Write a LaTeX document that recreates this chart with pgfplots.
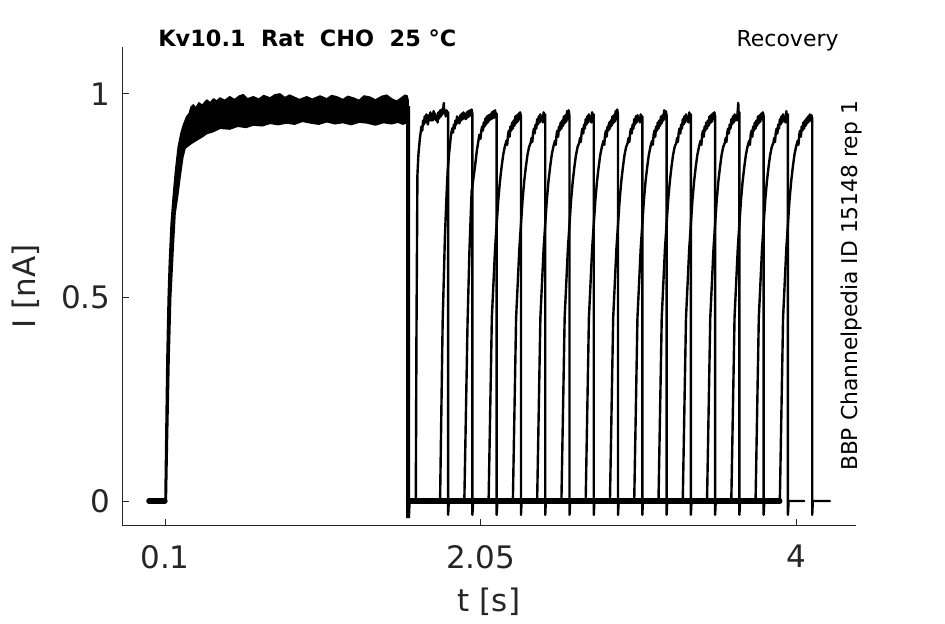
\documentclass[border=0pt]{standalone}
\usepackage{pgfplots}
\pgfplotsset{compat=1.18}
\usepackage{fontspec}
\setmainfont{DejaVu Sans}
\definecolor{axisgray}{HTML}{262626}
\begin{document}
\begin{tikzpicture}
\path[use as bounding box] (-61pt,-49pt) rectangle (411.5pt,263pt);
\begin{axis}[
  at={(0,0)}, anchor=south west,
  scale only axis, width=367pt, height=239.5pt,
  xmin=-0.1658, xmax=4.3708, ymin=-0.0614, ymax=1.1155,
  clip=false,
  axis x line*=bottom, axis y line*=left,
  axis line style={-, draw=axisgray, line width=0.5pt},
  tick align=inside,
  major tick length=3.5pt,
  every tick/.style={draw=axisgray, line width=0.5pt},
  xtick={0.1,2.05,4}, xticklabels={0.1,2.05,4},
  ytick={0,0.5,1}, yticklabels={0,0.5,1},
  /pgf/number format/assume math mode=true,
  ticklabel style={font=\fontsize{15.5}{18}\selectfont, text=axisgray},
  xticklabel style={yshift=-6pt},
  yticklabel style={xshift=-2.3pt},
  xlabel={t [s]}, ylabel={I [nA]},
  label style={font=\fontsize{15.5}{18}\selectfont, text=axisgray},
  xlabel style={at={(axis description cs:0.5,-0.159)}, anchor=center},
  ylabel style={at={(axis description cs:-0.131,0.5)}, anchor=center},
  sweep/.style={black, line width=1.2pt, line join=round, line cap=round},
]
% pre-pulse baseline and recovery baseline (overlapping noisy sweeps)
\addplot[black, line width=2.6pt, line cap=round] coordinates {(0,0) (0.1,0)};
\addplot[black, line width=2.6pt, line cap=round] coordinates {(1.604,0) (3.90,0)};
% first (conditioning) pulse: band of overlapping sweeps
\addplot[black, fill=black, line width=0.8pt, line join=round] coordinates {
(0.100,0.000) (0.105,0.15) (0.112,0.35) (0.120,0.50) (0.127,0.584) (0.138,0.68)
(0.151,0.748) (0.165,0.81) (0.182,0.870) (0.200,0.905) (0.215,0.925) (0.234,0.944)
(0.250,0.952) (0.262,0.968) (0.275,0.973) (0.29,0.965) (0.31,0.978) (0.33,0.972)
(0.358,0.985) (0.38,0.978) (0.40,0.988) (0.42,0.982) (0.44,0.990) (0.47,0.984)
(0.50,0.993) (0.53,0.986) (0.56,0.995) (0.584,0.998) (0.61,0.988) (0.646,0.993)
(0.68,0.987) (0.71,0.996) (0.749,0.990) (0.78,0.998) (0.811,1.000) (0.84,0.991)
(0.87,0.997) (0.893,0.993) (0.93,0.986) (0.976,0.993) (1.01,0.987) (1.058,0.995)
(1.10,0.988) (1.13,0.996) (1.161,0.993) (1.20,0.986) (1.23,0.994) (1.264,0.990)
(1.30,0.984) (1.33,0.995) (1.367,0.992) (1.40,0.985) (1.44,0.994) (1.47,0.997)
(1.50,0.988) (1.532,0.982) (1.56,0.990) (1.583,0.997) (1.596,0.995) (1.602,0.985)
(1.602,0.935)
(1.600,0.930) (1.57,0.926) (1.54,0.931) (1.50,0.927) (1.45,0.930) (1.40,0.924)
(1.35,0.929) (1.30,0.931) (1.25,0.925) (1.20,0.930) (1.15,0.927) (1.10,0.932)
(1.05,0.926) (1.00,0.929) (0.95,0.933) (0.90,0.926) (0.852,0.929) (0.80,0.925)
(0.75,0.928) (0.70,0.922) (0.646,0.924) (0.60,0.918) (0.55,0.921) (0.50,0.914)
(0.44,0.916) (0.40,0.908) (0.358,0.903) (0.33,0.895) (0.296,0.887) (0.26,0.878)
(0.224,0.867) (0.21,0.845) (0.193,0.797) (0.178,0.75) (0.162,0.707) (0.150,0.62)
(0.135,0.50) (0.125,0.35) (0.115,0.15) (0.108,0.00)
};
% end of first pulse
\addplot[black, line width=2pt] coordinates {(1.602,0.97) (1.602,-0.042) (1.607,0)};
% recovery test pulses, one per sweep
\addplot[sweep] coordinates {(1.650,0) (1.654,0.40) (1.660,0.80) (1.666,0.85) (1.675,0.89) (1.68,0.905) (1.685,0.92) (1.69,0.91) (1.695,0.935) (1.70,0.925) (1.705,0.945) (1.71,0.93) (1.715,0.95) (1.72,0.935) (1.725,0.925) (1.73,0.948) (1.735,0.935) (1.74,0.955) (1.745,0.935) (1.75,0.95) (1.755,0.935) (1.76,0.958) (1.765,0.94) (1.77,0.952) (1.775,0.935) (1.78,0.945) (1.785,0.93) (1.79,0.955) (1.795,0.94) (1.80,0.96) (1.805,0.945) (1.81,0.962) (1.815,0.95) (1.82,0.965) (1.823,0.978) (1.826,0.955) (1.83,0.96) (1.835,0.945) (1.84,0.96) (1.845,0.948) (1.85,0.955) (1.85,-0.034) (1.854,0) (1.95,0)};
\addplot[sweep] coordinates {(1.80,0) (1.816,0.44) (1.83,0.65) (1.841,0.76) (1.847,0.81) (1.855,0.85) (1.86,0.87) (1.865,0.89) (1.87,0.905) (1.876,0.916) (1.88,0.905) (1.885,0.925) (1.89,0.915) (1.895,0.935) (1.90,0.925) (1.905,0.945) (1.91,0.93) (1.915,0.94) (1.92,0.928) (1.925,0.948) (1.93,0.935) (1.935,0.952) (1.94,0.938) (1.945,0.955) (1.95,0.94) (1.955,0.95) (1.96,0.938) (1.965,0.955) (1.97,0.942) (1.975,0.958) (1.98,0.945) (1.985,0.96) (1.99,0.948) (1.995,0.962) (2.0,0.95) (2.0,-0.034) (2.004,0) (2.10,0)};
\addplot[sweep] coordinates {(1.95,0) (1.97,0.44) (1.982,0.62) (1.995,0.76) (2.012,0.81) (2.02,0.835) (2.027,0.86) (2.035,0.88) (2.043,0.9) (2.05,0.89) (2.055,0.91) (2.06,0.92) (2.065,0.91) (2.07,0.93) (2.075,0.92) (2.08,0.94) (2.085,0.925) (2.09,0.945) (2.095,0.93) (2.10,0.948) (2.105,0.935) (2.11,0.95) (2.115,0.938) (2.12,0.955) (2.125,0.94) (2.13,0.958) (2.135,0.942) (2.14,0.96) (2.145,0.945) (2.15,0.952) (2.15,-0.034) (2.154,0) (2.25,0)};
\addplot[sweep] coordinates {(2.10,0) (2.12,0.45) (2.14,0.62) (2.16,0.74) (2.17,0.785) (2.18,0.82) (2.19,0.85) (2.20,0.87) (2.21,0.885) (2.215,0.875) (2.22,0.90) (2.225,0.91) (2.23,0.895) (2.235,0.92) (2.24,0.91) (2.245,0.93) (2.25,0.915) (2.255,0.935) (2.26,0.922) (2.265,0.945) (2.27,0.928) (2.275,0.948) (2.28,0.932) (2.285,0.952) (2.29,0.938) (2.295,0.955) (2.30,0.945) (2.30,-0.034) (2.304,0) (2.40,0)};
\addplot[sweep] coordinates {(2.25,0) (2.27,0.45) (2.29,0.62) (2.31,0.74) (2.32,0.785) (2.33,0.82) (2.34,0.85) (2.35,0.87) (2.36,0.88) (2.365,0.892) (2.37,0.882) (2.375,0.905) (2.38,0.915) (2.385,0.903) (2.39,0.925) (2.395,0.915) (2.40,0.938) (2.405,0.925) (2.41,0.945) (2.415,0.93) (2.42,0.95) (2.425,0.935) (2.43,0.942) (2.435,0.93) (2.44,0.955) (2.445,0.94) (2.45,0.95) (2.45,-0.034) (2.454,0) (2.55,0)};
\addplot[sweep] coordinates {(2.40,0) (2.42,0.45) (2.44,0.62) (2.46,0.74) (2.47,0.785) (2.48,0.82) (2.49,0.85) (2.50,0.87) (2.51,0.885) (2.515,0.875) (2.52,0.90) (2.525,0.91) (2.53,0.895) (2.535,0.92) (2.54,0.91) (2.545,0.93) (2.55,0.915) (2.555,0.935) (2.56,0.922) (2.565,0.945) (2.57,0.928) (2.575,0.948) (2.58,0.932) (2.585,0.958) (2.59,0.938) (2.595,0.96) (2.60,0.945) (2.60,-0.034) (2.604,0) (2.70,0)};
\addplot[sweep] coordinates {(2.55,0) (2.57,0.45) (2.59,0.62) (2.61,0.74) (2.62,0.785) (2.63,0.82) (2.64,0.85) (2.65,0.87) (2.66,0.88) (2.665,0.892) (2.67,0.882) (2.675,0.905) (2.68,0.915) (2.685,0.903) (2.69,0.925) (2.695,0.915) (2.70,0.938) (2.705,0.925) (2.71,0.945) (2.715,0.93) (2.72,0.95) (2.725,0.935) (2.73,0.942) (2.735,0.93) (2.74,0.955) (2.745,0.94) (2.75,0.95) (2.75,-0.034) (2.754,0) (2.85,0)};
\addplot[sweep] coordinates {(2.70,0) (2.72,0.45) (2.74,0.62) (2.76,0.74) (2.77,0.785) (2.78,0.82) (2.79,0.85) (2.80,0.87) (2.81,0.885) (2.815,0.875) (2.82,0.90) (2.825,0.91) (2.83,0.895) (2.835,0.92) (2.84,0.91) (2.845,0.93) (2.85,0.915) (2.855,0.935) (2.86,0.922) (2.865,0.945) (2.87,0.928) (2.875,0.948) (2.88,0.932) (2.885,0.958) (2.89,0.938) (2.895,0.962) (2.90,0.948) (2.90,-0.034) (2.904,0) (3.00,0)};
\addplot[sweep] coordinates {(2.85,0) (2.87,0.45) (2.89,0.62) (2.91,0.74) (2.92,0.785) (2.93,0.82) (2.94,0.85) (2.95,0.87) (2.96,0.88) (2.965,0.892) (2.97,0.882) (2.975,0.905) (2.98,0.915) (2.985,0.903) (2.99,0.925) (2.995,0.915) (3.00,0.938) (3.005,0.925) (3.01,0.945) (3.015,0.93) (3.02,0.948) (3.025,0.935) (3.03,0.942) (3.035,0.93) (3.04,0.95) (3.045,0.938) (3.05,0.945) (3.05,-0.034) (3.054,0) (3.15,0)};
\addplot[sweep] coordinates {(3.00,0) (3.02,0.45) (3.04,0.62) (3.06,0.74) (3.07,0.785) (3.08,0.82) (3.09,0.85) (3.10,0.87) (3.11,0.885) (3.115,0.875) (3.12,0.90) (3.125,0.91) (3.13,0.895) (3.135,0.92) (3.14,0.91) (3.145,0.93) (3.15,0.915) (3.155,0.935) (3.16,0.922) (3.165,0.945) (3.17,0.928) (3.175,0.948) (3.18,0.935) (3.185,0.96) (3.19,0.94) (3.195,0.958) (3.20,0.948) (3.20,-0.034) (3.204,0) (3.30,0)};
\addplot[sweep] coordinates {(3.15,0) (3.17,0.45) (3.19,0.62) (3.21,0.74) (3.22,0.785) (3.23,0.82) (3.24,0.85) (3.25,0.87) (3.26,0.88) (3.265,0.892) (3.27,0.882) (3.275,0.905) (3.28,0.915) (3.285,0.903) (3.29,0.925) (3.295,0.915) (3.30,0.938) (3.305,0.925) (3.31,0.945) (3.315,0.93) (3.32,0.95) (3.325,0.935) (3.33,0.942) (3.335,0.93) (3.34,0.955) (3.345,0.94) (3.35,0.95) (3.35,-0.034) (3.354,0) (3.45,0)};
\addplot[sweep] coordinates {(3.30,0) (3.32,0.45) (3.34,0.62) (3.36,0.74) (3.37,0.785) (3.38,0.82) (3.39,0.85) (3.40,0.87) (3.41,0.885) (3.415,0.875) (3.42,0.90) (3.425,0.91) (3.43,0.895) (3.435,0.92) (3.44,0.91) (3.445,0.93) (3.45,0.915) (3.455,0.935) (3.46,0.922) (3.465,0.945) (3.47,0.928) (3.475,0.948) (3.48,0.932) (3.485,0.952) (3.49,0.938) (3.495,0.955) (3.50,0.945) (3.50,-0.034) (3.504,0) (3.60,0)};
\addplot[sweep] coordinates {(3.45,0) (3.47,0.45) (3.49,0.62) (3.51,0.74) (3.52,0.785) (3.53,0.82) (3.54,0.85) (3.55,0.87) (3.56,0.88) (3.565,0.892) (3.57,0.882) (3.575,0.905) (3.58,0.915) (3.585,0.903) (3.59,0.925) (3.595,0.915) (3.60,0.938) (3.605,0.925) (3.61,0.945) (3.615,0.93) (3.62,0.95) (3.625,0.935) (3.63,0.945) (3.635,0.935) (3.64,0.96) (3.643,0.978) (3.646,0.945) (3.65,0.955) (3.65,-0.034) (3.654,0) (3.75,0)};
\addplot[sweep] coordinates {(3.60,0) (3.62,0.45) (3.64,0.62) (3.66,0.74) (3.67,0.785) (3.68,0.82) (3.69,0.85) (3.70,0.87) (3.71,0.885) (3.715,0.875) (3.72,0.90) (3.725,0.91) (3.73,0.895) (3.735,0.92) (3.74,0.91) (3.745,0.93) (3.75,0.915) (3.755,0.935) (3.76,0.922) (3.765,0.945) (3.77,0.928) (3.775,0.948) (3.78,0.932) (3.785,0.952) (3.79,0.938) (3.795,0.955) (3.80,0.945) (3.80,-0.034) (3.804,0) (3.90,0)};
\addplot[sweep] coordinates {(3.75,0) (3.77,0.45) (3.79,0.62) (3.81,0.74) (3.82,0.785) (3.83,0.82) (3.84,0.85) (3.85,0.87) (3.86,0.88) (3.865,0.892) (3.87,0.882) (3.875,0.905) (3.88,0.915) (3.885,0.903) (3.89,0.925) (3.895,0.915) (3.90,0.938) (3.905,0.925) (3.91,0.945) (3.915,0.93) (3.92,0.95) (3.925,0.935) (3.93,0.942) (3.935,0.93) (3.94,0.958) (3.945,0.94) (3.95,0.95) (3.95,-0.034) (3.954,0) (4.05,0)};
\addplot[sweep] coordinates {(3.90,0) (3.92,0.45) (3.94,0.62) (3.96,0.74) (3.97,0.785) (3.98,0.82) (3.99,0.85) (4.00,0.87) (4.01,0.885) (4.015,0.875) (4.02,0.90) (4.025,0.91) (4.03,0.895) (4.035,0.92) (4.04,0.91) (4.045,0.93) (4.05,0.915) (4.055,0.935) (4.06,0.922) (4.065,0.94) (4.07,0.928) (4.075,0.945) (4.08,0.932) (4.085,0.95) (4.09,0.935) (4.095,0.948) (4.10,0.94) (4.10,-0.034) (4.104,0) (4.21,0)};
% annotations
\node[anchor=base west, inner sep=0pt, font=\bfseries\fontsize{11.2}{13}\selectfont, text=black] at (rel axis cs:0.049,1) {Kv10.1\ \ Rat\ \ CHO\ \ 25 °C};
\node[anchor=base east, inner sep=0pt, font=\fontsize{11}{13}\selectfont, text=black] at (rel axis cs:0.9768,1) {Recovery};
\node[anchor=base, rotate=90, inner sep=0pt, font=\fontsize{10.9}{13}\selectfont, text=black] at (rel axis cs:1.0014,0.501) {BBP Channelpedia ID 15148 rep 1};
\end{axis}
\end{tikzpicture}
\end{document}
